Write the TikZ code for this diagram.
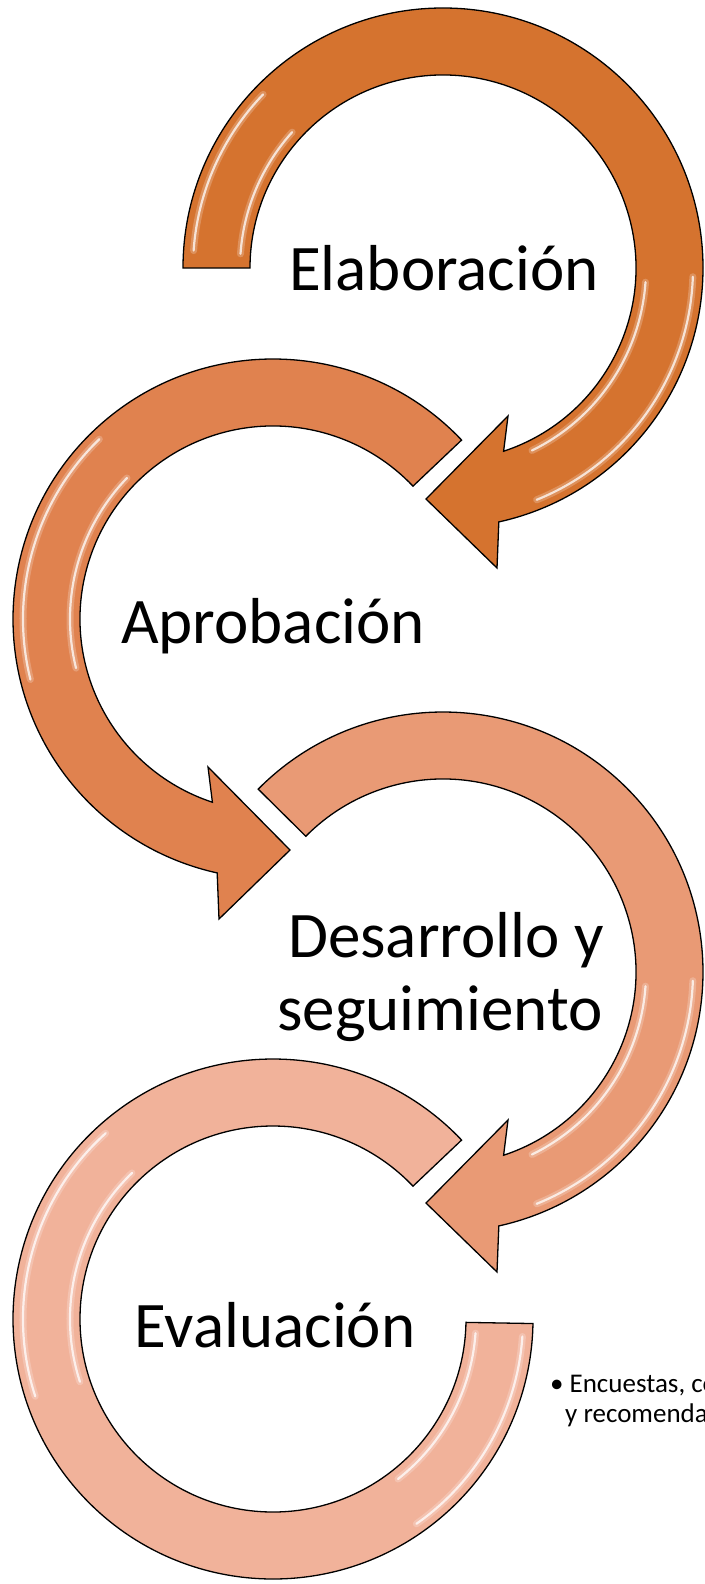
\documentclass[tikz,border=0pt]{standalone}
\usepackage{fontspec}
\setmainfont{Carlito}
\definecolor{cA}{HTML}{D5732F}
\definecolor{cB}{HTML}{E0824F}
\definecolor{cC}{HTML}{E99A75}
\definecolor{cD}{HTML}{F1B29A}
\tikzset{
  ringshape/.style={draw=black, line width=1.3pt, line join=miter},
  glow/.style={draw=white, draw opacity=0.22, line width=7pt, line cap=round},
  gloss/.style={draw=white, draw opacity=0.75, line width=2.2pt, line cap=round},
  bigtext/.style={anchor=base, inner sep=0pt, font=\fontsize{65}{72}\selectfont},
  smalltext/.style={anchor=base west, inner sep=0pt, font=\fontsize{27}{30}\selectfont}
}
\newcommand{\shine}[3]{% start angle, end angle, radius
  \draw[glow] (#1:#3) arc[start angle=#1,end angle=#2,radius=#3];
  \draw[gloss] (#1:#3) arc[start angle=#1,end angle=#2,radius=#3];}
\begin{document}
\begin{tikzpicture}[x=1pt,y=-1pt]
\useasboundingbox (0,0) rectangle (704,1584);

% ---- ring 1 : Elaboracion
\begin{scope}[shift={(443,268)}]
  \path[ringshape, fill=cA] (180:260) arc[start angle=180,end angle=437.6,radius=260]
    -- (54,300) -- (-17,231) -- (65,148) -- (431.7:193)
    arc[start angle=431.7,end angle=180,radius=193] -- cycle;
  \shine{184}{224}{250}
  \shine{184}{222}{203}
  \shine{362}{428}{250}
  \shine{364}{424}{203}
\end{scope}

% ---- ring 2 : Aprobacion
\begin{scope}[shift={(273,619)}]
  \path[ringshape, fill=cB] (-43.5:260) arc[start angle=-43.5,end angle=-257.6,radius=260]
    -- (-54,300) -- (17,231) -- (-65,148) -- (-251.7:193)
    arc[start angle=-251.7,end angle=-43.5,radius=193] -- cycle;
  \shine{166}{226}{250}
  \shine{166}{224}{203}
\end{scope}

% ---- ring 3 : Desarrollo y seguimiento
\begin{scope}[shift={(443,972)}]
  \path[ringshape, fill=cC] (224.7:260) arc[start angle=224.7,end angle=437.6,radius=260]
    -- (54,300) -- (-17,231) -- (65,148) -- (431.7:193)
    arc[start angle=431.7,end angle=224.7,radius=193] -- cycle;
  \shine{362}{428}{250}
  \shine{364}{424}{203}
\end{scope}

% ---- ring 4 : Evaluacion
\begin{scope}[shift={(273,1319)}]
  \path[ringshape, fill=cD] (-43.5:260) arc[start angle=-43.5,end angle=-359,radius=260]
    -- (-359:193) arc[start angle=-359,end angle=-43.5,radius=193] -- cycle;
  \shine{162}{228}{250}
  \shine{162}{226}{203}
  \shine{4}{55}{250}
  \shine{4}{52}{203}
\end{scope}

% ---- labels
\node[bigtext] (t1) at (444,290) {Elaboración};
\node[bigtext] (t2) at (273,643) {Aprobación};
\node[bigtext] (t3a) at (446,957) {Desarrollo y};
\node[bigtext] (t3b) at (440,1030) {seguimiento};
\node[bigtext] (t4) at (275,1347) {Evaluación};

\node[smalltext] (b1) at (550,1392) {•\hspace{6pt}Encuestas, conclusiones};
\node[smalltext] (b2) at (565,1422) {y recomendaciones};
\end{tikzpicture}
\end{document}
